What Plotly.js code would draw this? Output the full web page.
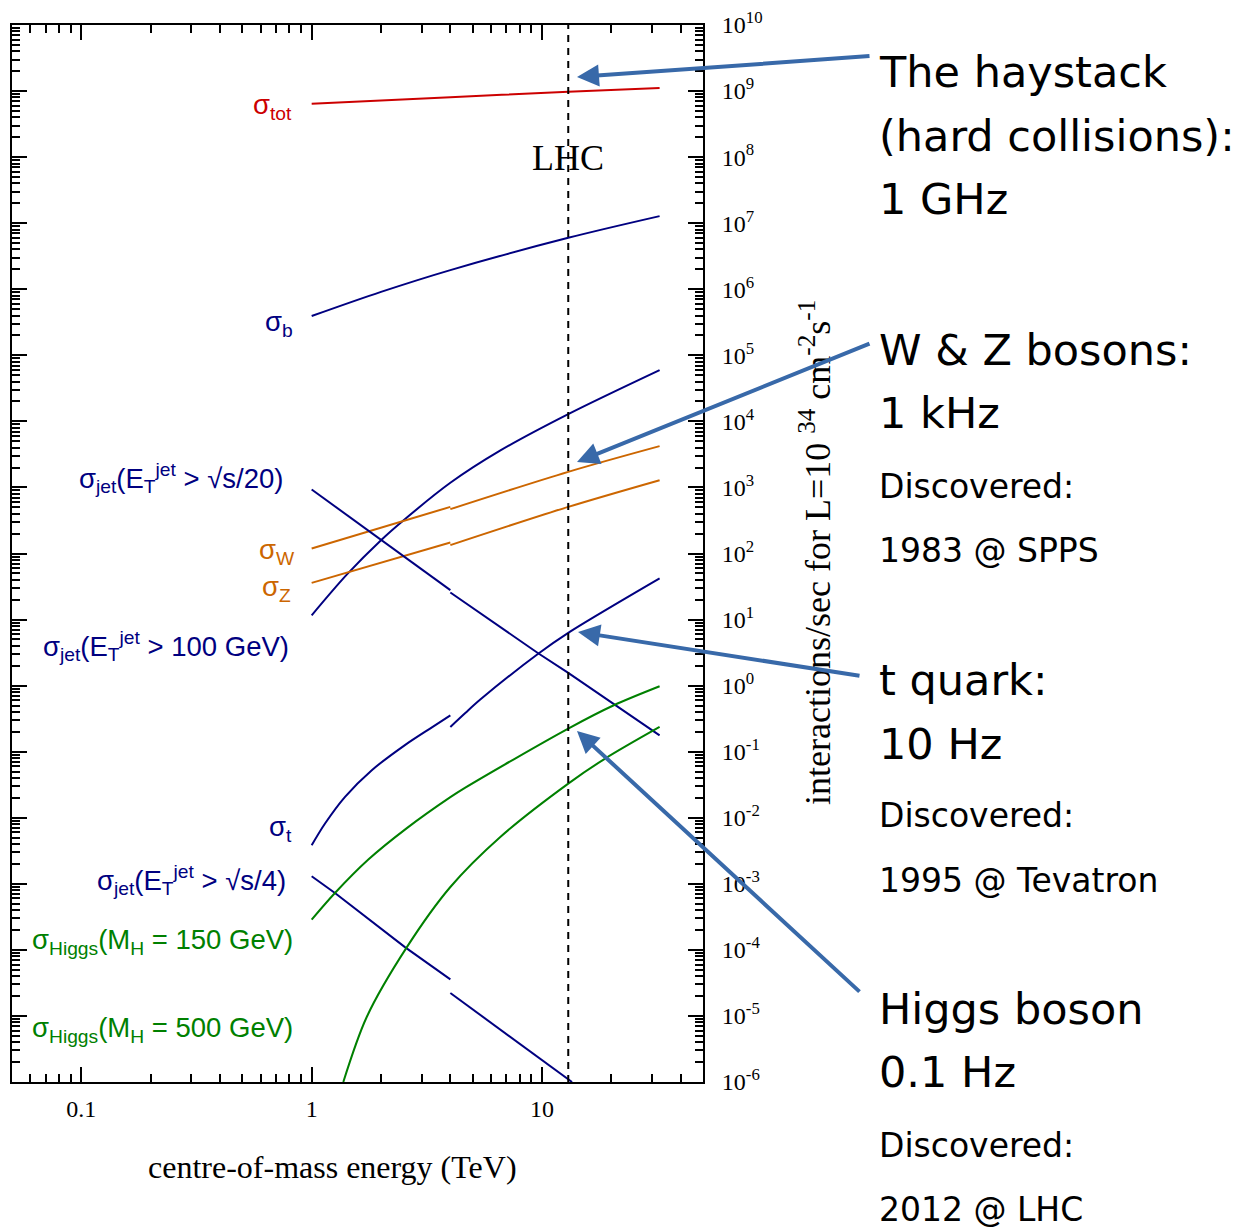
<!DOCTYPE html>
<html><head><meta charset="utf-8">
<script src="https://cdn.plot.ly/plotly-3.0.1.min.js"></script>
<style>html,body{margin:0;padding:0;background:#fff}#chart{width:1242px;height:1227px}</style>
</head><body><div id="chart"></div>
<script>
// centre-of-mass energy (TeV) and interactions/sec at L = 1e34 cm^-2 s^-1
const totE = [1, 4, 13, 32.4];
const totR = [6.43e8, 8.04e8, 9.77e8, 1.11e9];
const bE = [1, 2, 4, 13, 32.4];
const bR = [3.93e5, 9.12e5, 1.95e6, 6.01e6, 1.28e7];
const jet100E = [1, 1.42, 2, 2.5, 4, 6.6, 13, 32.4];
const jet100R = [11.6, 47.9, 159, 316, 1175, 3631, 12880, 59700];
const wE_ppbar = [1, 4];
const wR_ppbar = [119, 508];
const wE_pp = [4, 13, 32.4];
const wR_pp = [469, 1722, 4217];
const zE_ppbar = [1, 4];
const zR_ppbar = [35.9, 147];
const zE_pp = [4, 13, 32.4];
const zR_pp = [134, 508, 1288];
const jet20E_ppbar = [1, 4];
const jet20R_ppbar = [931, 27.9];
const jet20E_pp = [4, 9.66, 13, 32.4];
const jet20R_pp = [25.7, 3.06, 1.56, 0.177];
const topE_ppbar = [1, 1.143, 1.396, 1.824, 2.54, 3.327, 4];
const topR_ppbar = [3.83e-3, 8.17e-3, 2.07e-2, 5.24e-2, 0.126, 0.234, 0.355];
const topE_pp = [4, 4.645, 5.395, 9.66, 13, 32.4];
const topR_pp = [0.237, 0.385, 0.615, 3.06, 6.28, 41.9];
const jet4E_ppbar = [1, 1.262, 2.54, 4];
const jet4R_ppbar = [1.30e-3, 7.26e-4, 1.10e-4, 3.58e-5];
const jet4E_pp = [4, 13.5];
const jet4R_pp = [2.22e-5, 1e-6];
const h150E = [1, 1.262, 1.762, 2.59, 4, 4.645, 13, 20.5, 32.4];
const h150R = [2.87e-4, 7.26e-4, 2.33e-3, 6.97e-3, 2.05e-2, 2.86e-2, 0.224, 0.505, 0.980];
const h500E = [1.372, 1.734, 2.59, 4, 6.59, 13, 18.8, 32.4];
const h500R = [1e-6, 9.64e-6, 1.10e-4, 8.95e-4, 5.12e-3, 3.29e-2, 7.87e-2, 0.237];
const lhcE = 13;

const xTickVals = [0.1, 1, 10];
const xTickText = ['0.1', '1', '10'];
const yExps = [-6,-5,-4,-3,-2,-1,0,1,2,3,4,5,6,7,8,9,10];

const RED = '#cc0000', NAVY = '#000080', ORANGE = '#cc6600', GREEN = '#008000', ARROW = '#3869a9';
const SANS = '"Liberation Sans", Arial, sans-serif';
const SERIF = '"Liberation Serif", "Times New Roman", serif';
const DEJA = '"DejaVu Sans", sans-serif';

function line(x, y, color, shape) {
  return {x: x, y: y, type: 'scatter', mode: 'lines', hoverinfo: 'skip',
    line: {color: color, width: 2, shape: shape || 'linear', smoothing: 0.9}};
}
const traces = [
  line(totE, totR, RED, 'spline'),
  line(bE, bR, NAVY, 'spline'),
  line(jet100E, jet100R, NAVY, 'spline'),
  line(wE_ppbar, wR_ppbar, ORANGE), line(wE_pp, wR_pp, ORANGE, 'spline'),
  line(zE_ppbar, zR_ppbar, ORANGE), line(zE_pp, zR_pp, ORANGE, 'spline'),
  line(jet20E_ppbar, jet20R_ppbar, NAVY), line(jet20E_pp, jet20R_pp, NAVY),
  line(topE_ppbar, topR_ppbar, NAVY, 'spline'), line(topE_pp, topR_pp, NAVY, 'spline'),
  line(jet4E_ppbar, jet4R_ppbar, NAVY), line(jet4E_pp, jet4R_pp, NAVY),
  line(h150E, h150R, GREEN, 'spline'),
  line(h500E, h500R, GREEN, 'spline'),
  {x: [lhcE, lhcE], y: [1e-6, 1e10], type: 'scatter', mode: 'lines', hoverinfo: 'skip',
   line: {color: '#000', width: 2, dash: '7px,6px'}}
];

// minor tick positions (axis decoration)
const xMinor = [];
for (let d = -2; d <= 1; d++) for (let m = 2; m <= 9; m++) { const v = m * Math.pow(10, d); if (v > 0.05 && v < 50) xMinor.push(v); }
const yMinor = [];
for (let d = -6; d < 10; d++) for (let m = 2; m <= 9; m++) yMinor.push(m * Math.pow(10, d));

// plot-area geometry used for placing text outside the axes
const L = 12, T = 25, W = 691, H = 1057;
const px = v => (v - L) / W;
const py = v => (T + H - v) / H;
const xRange = [Math.log10(0.05), Math.log10(50)];
const xp = e => (Math.log10(e) - xRange[0]) / (xRange[1] - xRange[0]);

const annotations = [];
function lab(text, color, xr, yc, size) {
  annotations.push({text: text, xref: 'paper', yref: 'paper', x: px(xr), y: py(yc),
    xanchor: 'right', yanchor: 'middle', showarrow: false,
    font: {family: SANS, size: size || 27.5, color: color}});
}
lab('σ<sub>tot</sub>', RED, 294, 106);
lab('σ<sub>b</sub>', NAVY, 295, 324);
lab('σ<sub>jet</sub>(E<sub>T</sub><sup>jet</sup> > √s/20)', NAVY, 286, 478);
lab('σ<sub>W</sub>', ORANGE, 297, 551);
lab('σ<sub>Z</sub>', ORANGE, 293, 589);
lab('σ<sub>jet</sub>(E<sub>T</sub><sup>jet</sup> > 100 GeV)', NAVY, 291, 646);
lab('σ<sub>t</sub>', NAVY, 294, 828);
lab('σ<sub>jet</sub>(E<sub>T</sub><sup>jet</sup> > √s/4)', NAVY, 288, 880);
lab('σ<sub>Higgs</sub>(M<sub>H</sub> = 150 GeV)', GREEN, 295, 941);
lab('σ<sub>Higgs</sub>(M<sub>H</sub> = 500 GeV)', GREEN, 295, 1029);

annotations.push({text: 'LHC', xref: 'paper', yref: 'paper', x: xp(lhcE), y: py(158),
  xanchor: 'center', yanchor: 'middle', showarrow: false,
  font: {family: SERIF, size: 36, color: '#000'}});

// axis titles
annotations.push({text: 'centre-of-mass energy (TeV)', xref: 'paper', yref: 'paper', x: px(332), y: py(1167),
  xanchor: 'center', yanchor: 'middle', showarrow: false,
  font: {family: SERIF, size: 32, color: '#000'}});
annotations.push({text: 'interactions/sec for L=10 <sup>34</sup> cm<sup>-2</sup>s<sup>-1</sup>', xref: 'paper', yref: 'paper',
  x: px(815), y: py(553), textangle: -90,
  xanchor: 'center', yanchor: 'middle', showarrow: false,
  font: {family: SERIF, size: 36, color: '#000'}});

function rt(text, yc, size) {
  annotations.push({text: text, xref: 'paper', yref: 'paper', x: px(877), y: py(yc),
    xanchor: 'left', yanchor: 'middle', showarrow: false,
    font: {family: DEJA, size: size, color: '#000'}});
}
rt('The haystack', 72, 43); rt('(hard collisions):', 136, 43); rt('1 GHz', 199, 43);
rt('W &amp; Z bosons:', 350, 43); rt('1 kHz', 413, 43); rt('Discovered:', 486, 33); rt('1983 @ SPPS', 550, 33);
rt('t quark:', 680, 43); rt('10 Hz', 744, 43); rt('Discovered:', 815, 33); rt('1995 @ Tevatron', 880, 33);
rt('Higgs boson', 1009, 43); rt('0.1 Hz', 1072, 43); rt('Discovered:', 1145, 33); rt('2012 @ LHC', 1209, 33);

function arrow(hx, hy, tx, ty) {
  annotations.push({text: '', xref: 'paper', yref: 'paper', x: px(hx), y: py(hy),
    ax: tx - hx, ay: ty - hy, showarrow: true, arrowhead: 2, arrowsize: 1.1,
    arrowwidth: 4, arrowcolor: ARROW});
}
arrow(577, 77, 871, 56);
arrow(577, 462, 871, 343);
arrow(578, 632, 861, 676);
arrow(577, 731, 861, 993);

const axisCommon = {
  showline: true, linecolor: '#000', linewidth: 2, mirror: 'ticks',
  ticks: 'inside', ticklen: 15, tickwidth: 2, tickcolor: '#000',
  showgrid: false, zeroline: false, tickmode: 'array'
};

const layout = {
  width: 1242, height: 1227,
  margin: {l: L, r: 1242 - L - W, t: T, b: 1227 - T - H},
  paper_bgcolor: '#fff', plot_bgcolor: '#fff',
  showlegend: false,
  xaxis: Object.assign({}, axisCommon, {
    type: 'log', range: xRange,
    tickvals: xTickVals, ticktext: xTickText,
    tickfont: {family: SERIF, size: 24, color: '#000'},
    ticklabelstandoff: 4,
    minor: {tickmode: 'array', tickvals: xMinor, ticks: 'inside', ticklen: 8, tickwidth: 2, tickcolor: '#000', showgrid: false}
  }),
  yaxis: Object.assign({}, axisCommon, {
    type: 'log', range: [-6, 10], side: 'right',
    tickvals: yExps.map(k => Math.pow(10, k)),
    ticktext: yExps.map(k => '10<sup>' + String(k) + '</sup>'),
    tickfont: {family: SERIF, size: 24, color: '#000'},
    ticklabelstandoff: 12,
    minor: {tickmode: 'array', tickvals: yMinor, ticks: 'inside', ticklen: 8, tickwidth: 2, tickcolor: '#000', showgrid: false}
  }),
  annotations: annotations
};

Plotly.newPlot('chart', traces, layout, {displayModeBar: false, staticPlot: true});
</script>
</body></html>
